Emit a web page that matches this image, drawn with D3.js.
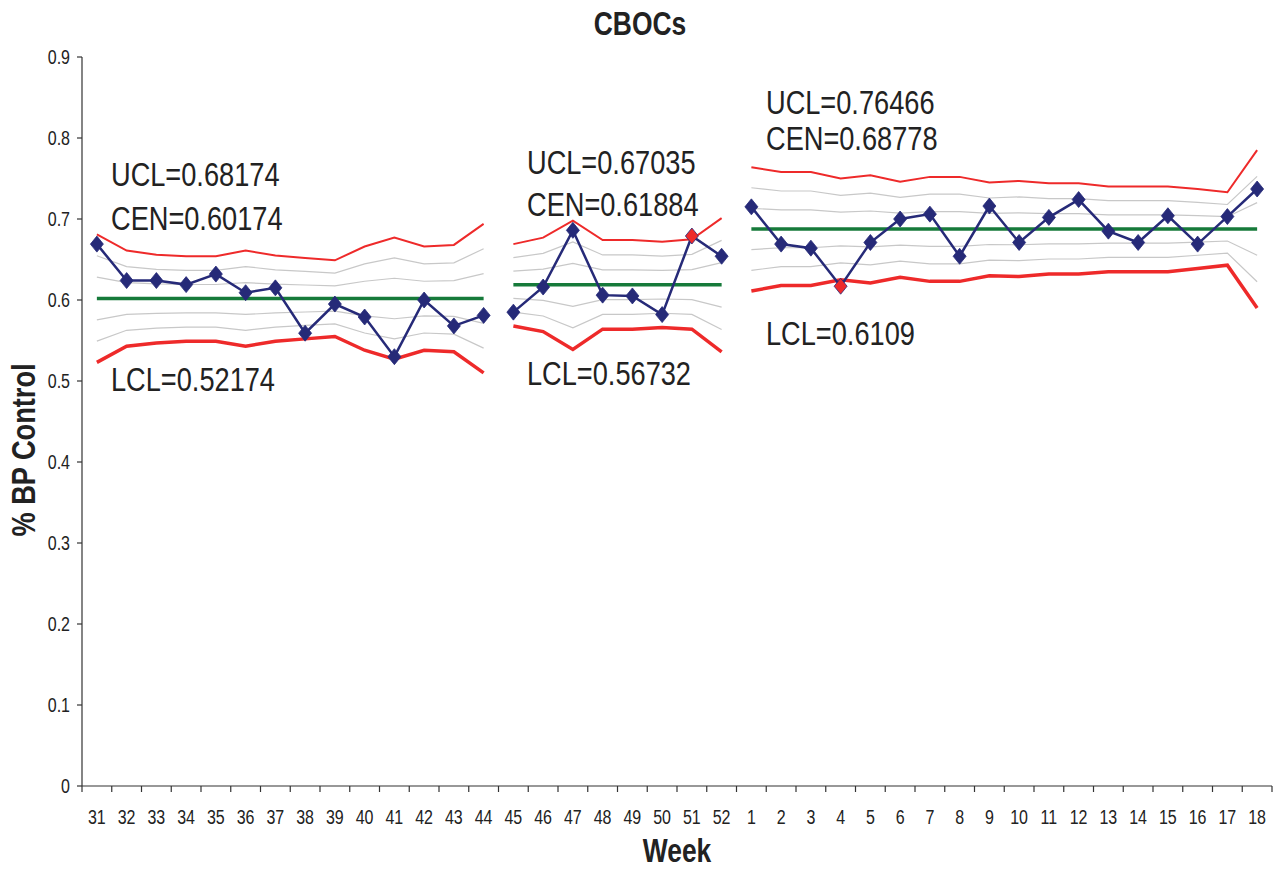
<!DOCTYPE html>
<html lang="en">
<head>
  <meta charset="UTF-8">
  <title>CBOCs</title>
  <script src="https://d3js.org/d3.v7.min.js"></script>
  <style>
    body { margin: 0; background: #fff; }
    svg { display: block; font-family: "Liberation Sans", Arial, sans-serif; }
    .axis line { stroke: #333; stroke-width: 1.2px; }
    text { fill: #222; }
  </style>
</head>
<body>
  <svg width="1278" height="869"></svg>
  <script>
    // weeks 31..52 of one year, then 1..18 of the next
    const weeks = ["31","32","33","34","35","36","37","38","39","40","41","42","43","44",
                   "45","46","47","48","49","50","51","52",
                   "1","2","3","4","5","6","7","8","9","10","11","12","13","14","15","16","17","18"];

    const bpControl = [0.669, 0.624, 0.624, 0.619, 0.632, 0.609, 0.615, 0.559, 0.595, 0.579, 0.530, 0.600, 0.568, 0.581,
                       0.585, 0.616, 0.686, 0.606, 0.605, 0.582, 0.679, 0.654,
                       0.715, 0.669, 0.664, 0.617, 0.671, 0.700, 0.706, 0.654, 0.716, 0.671, 0.702, 0.724, 0.685, 0.671, 0.704, 0.669, 0.703, 0.737];

    const ucl = [0.681, 0.661, 0.656, 0.654, 0.654, 0.661, 0.655, 0.652, 0.649, 0.666, 0.677, 0.666, 0.668, 0.694,
                 0.669, 0.677, 0.698, 0.674, 0.674, 0.672, 0.675, 0.701,
                 0.764, 0.758, 0.758, 0.750, 0.754, 0.746, 0.752, 0.752, 0.745, 0.747, 0.744, 0.744, 0.740, 0.740, 0.740, 0.737, 0.733, 0.785];

    const lcl = [0.523, 0.543, 0.547, 0.549, 0.549, 0.543, 0.549, 0.552, 0.555, 0.538, 0.527, 0.538, 0.536, 0.510,
                 0.568, 0.561, 0.539, 0.564, 0.564, 0.566, 0.564, 0.536,
                 0.611, 0.618, 0.618, 0.625, 0.621, 0.628, 0.623, 0.623, 0.630, 0.629, 0.632, 0.632, 0.635, 0.635, 0.635, 0.639, 0.643, 0.590];

    // three phases of the chart
    const phaseStart = [0, 14, 22];
    const phaseEnd   = [13, 21, 39];
    const phaseCen   = [0.60174, 0.61884, 0.68778];
    const phaseUcl   = ["0.68174", "0.67035", "0.76466"];
    const phaseLcl   = ["0.52174", "0.56732", "0.6109"];
    const phaseCenTxt = ["0.60174", "0.61884", "0.68778"];

    const flagged = ["51", "4"];
    const yTicks = [0, 0.1, 0.2, 0.3, 0.4, 0.5, 0.6, 0.7, 0.8, 0.9];

    const svg = d3.select("svg");
    const plotL = 82, plotR = 1272, plotT = 57, plotB = 786;

    const x = d3.scaleBand().domain(weeks).range([plotL, plotR]).padding(0);
    const y = d3.scaleLinear().domain([0, 0.9]).range([plotB, plotT]);
    const cx = w => x(w) + x.bandwidth() / 2;

    // narrow look: squeeze Liberation Sans horizontally
    function narrowText(g, tx, ty, str, size, anchor, bold, rot) {
      return g.append("text")
        .attr("transform", `translate(${tx},${ty})${rot ? " rotate(" + rot + ")" : ""} scale(0.8,1)`)
        .attr("text-anchor", anchor || "start")
        .style("font-size", size + "px")
        .style("font-weight", bold ? "bold" : "normal")
        .text(str);
    }

    // y axis
    const ya = svg.append("g").attr("class", "axis");
    ya.append("line").attr("x1", plotL).attr("x2", plotL).attr("y1", plotT).attr("y2", plotB);
    ya.selectAll("line.tk")
      .data(yTicks)
      .join("line")
      .attr("class", "tk")
      .attr("x1", plotL - 5).attr("x2", plotL)
      .attr("y1", d => y(d)).attr("y2", d => y(d));
    yTicks.forEach(d => narrowText(ya, plotL - 12, y(d) + 7, d === 0 ? "0" : String(d), 20, "end"));

    // x axis: labels centred in bands, tick marks on band edges
    const xa = svg.append("g").attr("class", "axis");
    xa.append("line").attr("x1", plotL).attr("x2", plotR).attr("y1", plotB).attr("y2", plotB);
    xa.selectAll("line.tk")
      .data(d3.range(weeks.length + 1))
      .join("line")
      .attr("class", "tk")
      .attr("x1", i => plotL + i * x.step()).attr("x2", i => plotL + i * x.step())
      .attr("y1", plotB).attr("y2", plotB + 6);
    weeks.forEach(w => narrowText(xa, cx(w), 824, w, 20, "middle"));

    // per-phase lines
    const line = d3.line().x(d => cx(d.w)).y(d => y(d.v));
    const sigmaFracs = [2/3, 1/3, -1/3, -2/3];

    phaseStart.forEach((s, p) => {
      const idx = d3.range(s, phaseEnd[p] + 1);
      const cen = phaseCen[p];

      // sigma zones (gray)
      sigmaFracs.forEach(f => {
        const pts = idx.map(i => ({ w: weeks[i], v: cen + (f > 0 ? (ucl[i] - cen) : (cen - lcl[i])) * f }));
        svg.append("path").attr("d", line(pts))
          .attr("fill", "none").attr("stroke", "#c8c8c8").attr("stroke-width", 1.2);
      });

      svg.append("path").attr("d", line(idx.map(i => ({ w: weeks[i], v: ucl[i] }))))
        .attr("fill", "none").attr("stroke", "#ee2a2a").attr("stroke-width", 2);
      svg.append("path").attr("d", line(idx.map(i => ({ w: weeks[i], v: lcl[i] }))))
        .attr("fill", "none").attr("stroke", "#ee2a2a").attr("stroke-width", 3.5);

      svg.append("line")
        .attr("x1", cx(weeks[s])).attr("x2", cx(weeks[phaseEnd[p]]))
        .attr("y1", y(cen)).attr("y2", y(cen))
        .attr("stroke", "#167a3a").attr("stroke-width", 3.5);

      svg.append("path").attr("d", line(idx.map(i => ({ w: weeks[i], v: bpControl[i] }))))
        .attr("fill", "none").attr("stroke", "#262a78").attr("stroke-width", 2.5);

      svg.selectAll(null)
        .data(idx)
        .join("path")
        .attr("d", "M0,-8L6.5,0L0,8L-6.5,0Z")
        .attr("transform", i => `translate(${cx(weeks[i])},${y(bpControl[i])})`)
        .attr("fill", i => flagged.includes(weeks[i]) ? "#ee2a2a" : "#262a78")
        .attr("stroke", "#262a78").attr("stroke-width", 0.8);
    });

    // limit annotations
    const noteX = [111, 527, 766];
    const noteUclY = [186, 174, 114];
    const noteCenY = [230, 216, 150];
    const noteLclY = [391, 385, 345];
    phaseStart.forEach((s, p) => {
      narrowText(svg, noteX[p], noteUclY[p], "UCL=" + phaseUcl[p], 34);
      narrowText(svg, noteX[p], noteCenY[p], "CEN=" + phaseCenTxt[p], 34);
      narrowText(svg, noteX[p], noteLclY[p], "LCL=" + phaseLcl[p], 34);
    });

    // titles
    narrowText(svg, 640, 35, "CBOCs", 33, "middle", true);
    narrowText(svg, 677, 862, "Week", 33, "middle", true);
    narrowText(svg, 35, 450, "% BP Control", 34, "middle", true, -90);
  </script>
</body>
</html>
